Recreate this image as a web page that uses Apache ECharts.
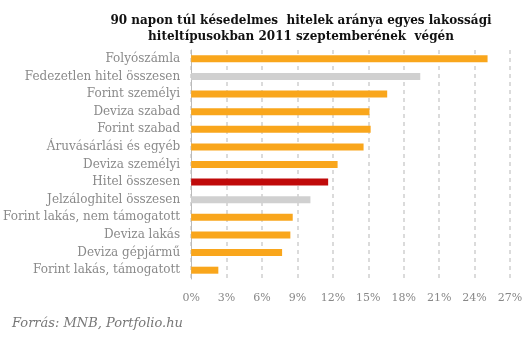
<!DOCTYPE html>
<html><head><meta charset="utf-8">
<script src="https://cdn.jsdelivr.net/npm/echarts@6/dist/echarts.min.js"></script>
<style>html,body{margin:0;padding:0;background:#fff}#c{width:531px;height:342px}</style>
</head><body><div id="c"></div>
<script>
const categories = ["Folyószámla","Fedezetlen hitel összesen","Forint személyi","Deviza szabad","Forint szabad","Áruvásárlási és egyéb","Deviza személyi","Hitel összesen","Jelzáloghitel összesen","Forint lakás, nem támogatott","Deviza lakás","Deviza gépjármű","Forint lakás, támogatott"];
const values = [25.1,19.4,16.6,15.1,15.2,14.6,12.4,11.6,10.1,8.6,8.4,7.7,2.3];
const barColors = ["#F9A61C","#D0D0D0","#F9A61C","#F9A61C","#F9A61C","#F9A61C","#F9A61C","#C00A0A","#D0D0D0","#F9A61C","#F9A61C","#F9A61C","#F9A61C"];
const titleText = "90 napon túl késedelmes  hitelek aránya egyes lakossági\nhiteltípusokban 2011 szeptemberének  végén";
const sourceText = "Forrás: MNB, Portfolio.hu";
const serif = "'DejaVu Serif', 'Liberation Serif', serif";
const chart = echarts.init(document.getElementById('c'), null, {renderer:'canvas'});
chart.setOption({
  animation:false,
  title:{text:titleText,left:296,top:8,textAlign:'center',textStyle:{fontFamily:serif,fontSize:12,fontWeight:'bold',color:'#111',lineHeight:16}},
  graphic:[{type:'text',left:12,top:317,style:{text:sourceText,font:"italic 13px 'DejaVu Serif', serif",fill:'#777'}}],
  grid:{left:186,right:21,top:50,bottom:63,containLabel:false},
  xAxis:{type:'value',min:0,max:27,interval:3,
    axisLine:{show:false},axisTick:{show:false},
    splitLine:{show:true,lineStyle:{color:'#cfcfcf',type:[4,4],width:1.5}},
    axisLabel:{formatter:'{value}%',color:'#888',fontFamily:serif,fontSize:11,margin:14}},
  yAxis:{type:'category',inverse:true,data:categories,
    axisLine:{show:true,lineStyle:{color:'#bbb',width:1}},axisTick:{show:false},
    axisLabel:{color:'#8a8a8a',fontFamily:serif,fontSize:12,margin:11}},
  series:[{type:'bar',barWidth:7,data:values.map((v,i)=>({value:v,itemStyle:{color:barColors[i]}}))}]
});
</script></body></html>
